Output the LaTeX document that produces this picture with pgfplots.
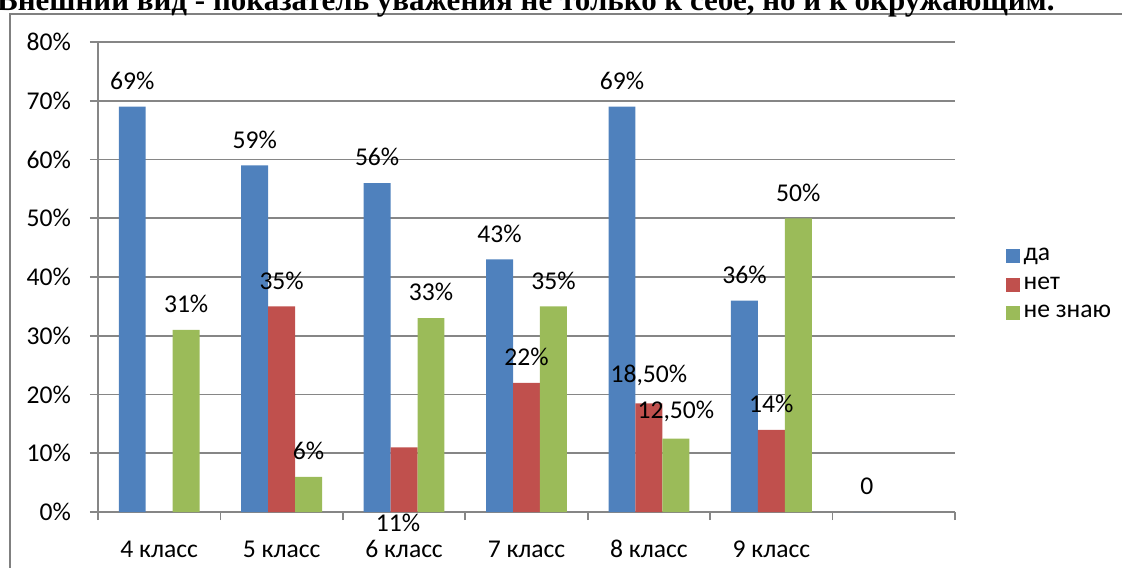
\documentclass[border=0pt]{standalone}
\usepackage{fontspec}
\setmainfont{Carlito}
\newfontfamily\titlefont{Liberation Serif}
\usepackage{pgfplots}
\pgfplotsset{compat=1.18}
\definecolor{cblue}{HTML}{4F81BD}
\definecolor{cred}{HTML}{C0504D}
\definecolor{cgreen}{HTML}{9BBB59}
\definecolor{gridgray}{HTML}{868686}
\definecolor{framegray}{HTML}{808080}
\begin{document}
\begin{tikzpicture}
\begin{axis}[
  anchor=south west, scale only axis,
  width=428.5bp, height=235bp,
  xmin=-0.5, xmax=6.5, ymin=0, ymax=80,
  clip=false,
  axis x line*=bottom, axis y line*=left,
  axis line style={gridgray, line width=0.8bp},
  ytick={0,10,...,80},
  yticklabel={\pgfmathprintnumber{\tick}\%},
  ymajorgrids, grid style={gridgray, line width=0.8bp},
  xtick={0,...,5},
  xticklabels={4 класс,5 класс,6 класс,7 класс,8 класс,9 класс},
  minor xtick={-0.5,0.5,...,6.5},
  tick align=outside,
  major tick length=4bp, minor tick length=4bp,
  major x tick style={draw=none},
  minor tick style={gridgray, line width=0.8bp},
  major y tick style={gridgray, line width=0.8bp},
  tick label style={font=\fontsize{12.8bp}{15bp}\selectfont},
  /pgf/number format/assume math mode=true,
  yticklabel style={xshift=-6bp},
  xticklabel style={yshift=-6bp, text height=9bp, text depth=3bp},
  nodes near coords style={font=\fontsize{12.8bp}{15bp}\selectfont, yshift=5bp},
  legend style={at={(1.0517,0.484)}, anchor=west, draw=none, fill=none,
    font=\fontsize{12.8bp}{15bp}\selectfont, row sep=2.6bp},
  legend cell align=left,
]
\addplot[ybar, bar width=0.22, bar shift=0, fill=cblue, draw=none,
  legend image code/.code={\fill[cblue] (-2bp,-3.5bp) rectangle (5bp,3.5bp);},
  nodes near coords, point meta=explicit symbolic]
  coordinates {(-0.22,69) [69\%] (0.78,59) [59\%] (1.78,56) [56\%] (2.78,43) [43\%] (3.78,69) [69\%] (4.78,36) [36\%] (5.78,0) [0]};
\addplot[ybar, bar width=0.22, bar shift=0, fill=cred, draw=none,
  legend image code/.code={\fill[cred] (-2bp,-3.5bp) rectangle (5bp,3.5bp);},
  nodes near coords, point meta=explicit symbolic]
  coordinates {(1,35) [35\%] (2,11) [] (3,22) [22\%] (4,18.5) [18,50\%] (5,14) [14\%]};
\addplot[ybar, bar width=0.22, bar shift=0, fill=cgreen, draw=none,
  legend image code/.code={\fill[cgreen] (-2bp,-3.5bp) rectangle (5bp,3.5bp);},
  nodes near coords, point meta=explicit symbolic]
  coordinates {(0.22,31) [31\%] (1.22,6) [6\%] (2.22,33) [33\%] (3.22,35) [35\%] (4.22,12.5) [12,50\%] (5.22,50) [50\%]};
\legend{да,нет,не знаю}
\node[font=\fontsize{12.8bp}{15bp}\selectfont] at (axis cs:1.95,-1.9) {11\%};
\end{axis}
\coordinate (O) at ([shift={(-49bp,-28bp)}]current axis.south west);
\pgfresetboundingbox
\path[use as bounding box] (O) rectangle ++(561bp,284bp);
\begin{scope}[shift={(O)}, x=1bp, y=1bp]
\draw[framegray, line width=1bp] (5,-10) -- (5,277) -- (570,277);
\node[anchor=base east, inner sep=0, font=\titlefont\bfseries\fontsize{15.5bp}{17bp}\selectfont] at (527.5,279) {Внешний вид - показатель уважения не только к себе, но и к окружающим.};
\end{scope}
\end{tikzpicture}
\end{document}
